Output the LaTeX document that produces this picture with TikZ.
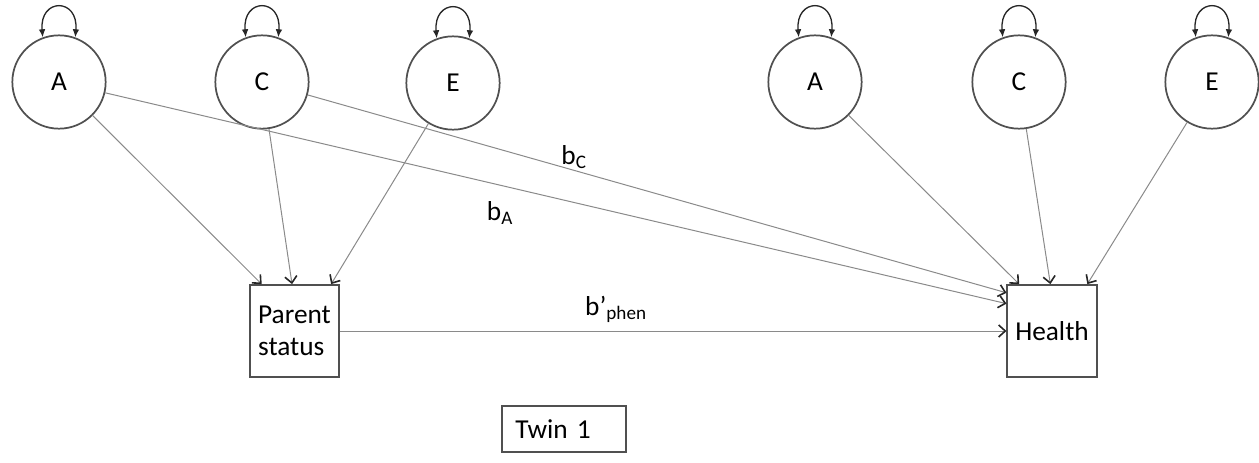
\documentclass[tikz,border=0pt]{standalone}
\usepackage{fontspec}
\setmainfont{Carlito}
\usepackage{xcolor}
\usepackage{tikz}
\usetikzlibrary{arrows.meta}

\definecolor{pathgray}{HTML}{8A8A8A}
\definecolor{framegray}{HTML}{505050}

\begin{document}
\begin{tikzpicture}[
    x=0.75pt,y=0.75pt,
    latent node/.style={draw=framegray,circle,line width=1.3pt,minimum size=70pt,
      inner sep=0pt,font=\fontsize{20.5}{23}\selectfont},
    observed node/.style={draw=framegray,rectangle,line width=1.3pt,minimum width=67pt,
      minimum height=69pt,inner sep=2pt,font=\fontsize{20.5}{24}\selectfont},
    path arrow/.style={-{Straight Barb[length=5pt,width=9pt,line width=1.2pt,color=black!85]},
      draw=pathgray,line width=0.75pt},
    variance arrow/.style={{Latex[length=6pt,width=5pt]}-{Latex[length=6pt,width=5pt]},
      draw=black!85,line width=1pt},
    coef label/.style={font=\fontsize{20.5}{23}\selectfont,inner sep=1pt}
  ]
    \useasboundingbox (0,0) rectangle (1259,462);
    % twin 1 latent factors (parent status)
    \node[latent node] (A1) at (59,380) {A};
    \node[latent node] (C1) at (262,380) {C};
    \node[latent node] (E1) at (453,379) {E};
    % latent factors (health)
    \node[latent node] (A2) at (815,380) {A};
    \node[latent node] (C2) at (1019,380) {C};
    \node[latent node] (E2) at (1212,380) {E};
    % observed variables
    \node[observed node,align=left] (P) at (294.5,131) {Parent\\status};
    \node[observed node] (H) at (1052,131) {Health};
    \node[draw=framegray,line width=1.3pt,text width=73pt,inner xsep=10pt,
      minimum height=34pt,align=left,font=\fontsize{20.5}{23}\selectfont] (T) at (564,33) {Twin 1};
    % variances
    \foreach \n in {A1,C1,E1,A2,C2,E2}
      \draw[variance arrow] (\n.110) .. controls +(95:40) and +(85:40) .. (\n.70);
    % paths
    \draw[path arrow] (A1) -- (P.125);
    \draw[path arrow] (C1) -- (P.93);
    \draw[path arrow] (E1) -- (P.52);
    \draw[path arrow] (A2) -- (H.125);
    \draw[path arrow] (C2) -- (H.92);
    \draw[path arrow] (E2) -- (H.53);
    \draw[path arrow] (A1) -- (H.149);
    \draw[path arrow] (C1) -- (H.140);
    \draw[path arrow] (P.east) -- (H.west);
    % coefficients
    \node[coef label] (bC) at (574,305) {b\textsubscript{C}};
    \node[coef label] (bA) at (500,249) {b\textsubscript{A}};
    \node[coef label] (bP) at (616,153) {b’\textsubscript{phen}};
  \end{tikzpicture}
\end{document}
